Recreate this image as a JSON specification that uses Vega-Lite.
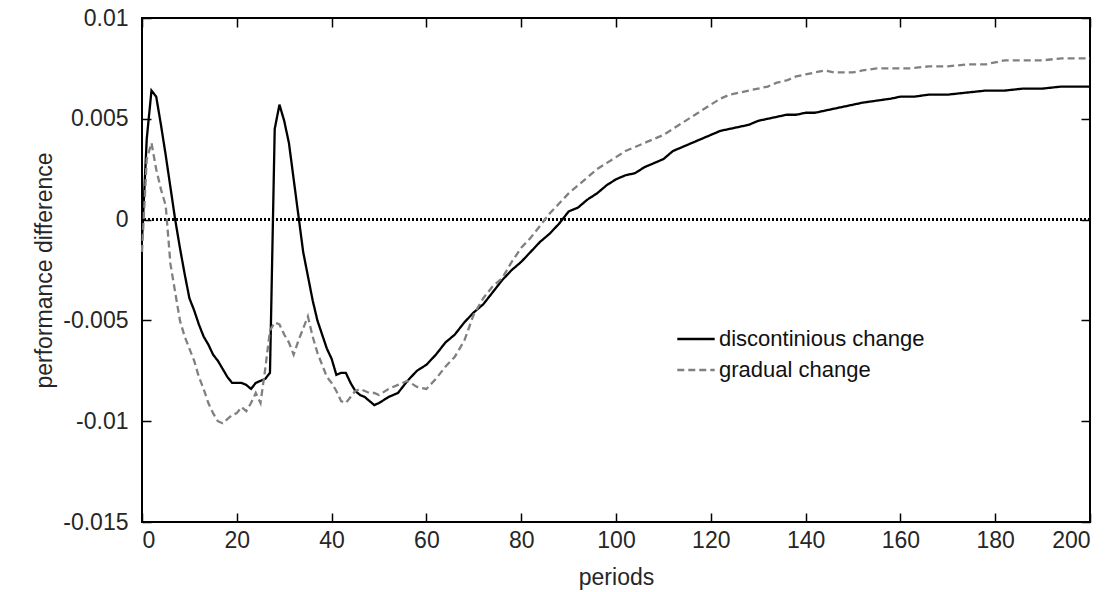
{
  "$schema": "https://vega.github.io/schema/vega-lite/v6.json",
  "width": 948,
  "height": 504,
  "autosize": {"type": "none"},
  "padding": {"left": 142, "top": 18, "right": 28, "bottom": 70},
  "background": "white",
  "config": {
    "font": "Liberation Sans",
    "view": {"stroke": "#000", "strokeWidth": 2},
    "axis": {
      "domain": false,
      "grid": false,
      "tickColor": "#000",
      "tickWidth": 1.5,
      "tickSize": -9,
      "labelFont": "Liberation Sans",
      "labelFontSize": 23,
      "labelColor": "#262626",
      "titleFont": "Liberation Sans",
      "titleFontSize": 23,
      "titleFontWeight": "normal",
      "titleColor": "#262626"
    },
    "legend": {
      "symbolType": "M-1,0H1",
      "symbolSize": 1400,
      "symbolStrokeWidth": 2.3,
      "labelFont": "Liberation Sans",
      "labelFontSize": 22,
      "labelColor": "#111",
      "labelOffset": 3,
      "labelLimit": 0,
      "rowPadding": -1,
      "padding": 0
    }
  },
  "datasets": {
    "series": [
      {"period": 0, "value": -0.0010, "series": "discontinious change"},
      {"period": 1, "value": 0.0040, "series": "discontinious change"},
      {"period": 2, "value": 0.0064, "series": "discontinious change"},
      {"period": 3, "value": 0.0061, "series": "discontinious change"},
      {"period": 4, "value": 0.0047, "series": "discontinious change"},
      {"period": 5, "value": 0.0032, "series": "discontinious change"},
      {"period": 6, "value": 0.0016, "series": "discontinious change"},
      {"period": 7, "value": 0.0000, "series": "discontinious change"},
      {"period": 8, "value": -0.0014, "series": "discontinious change"},
      {"period": 9, "value": -0.0027, "series": "discontinious change"},
      {"period": 10, "value": -0.0039, "series": "discontinious change"},
      {"period": 11, "value": -0.0045, "series": "discontinious change"},
      {"period": 12, "value": -0.0052, "series": "discontinious change"},
      {"period": 13, "value": -0.0058, "series": "discontinious change"},
      {"period": 14, "value": -0.0062, "series": "discontinious change"},
      {"period": 15, "value": -0.0067, "series": "discontinious change"},
      {"period": 16, "value": -0.0070, "series": "discontinious change"},
      {"period": 17, "value": -0.0074, "series": "discontinious change"},
      {"period": 18, "value": -0.0078, "series": "discontinious change"},
      {"period": 19, "value": -0.0081, "series": "discontinious change"},
      {"period": 20, "value": -0.0081, "series": "discontinious change"},
      {"period": 21, "value": -0.0081, "series": "discontinious change"},
      {"period": 22, "value": -0.0082, "series": "discontinious change"},
      {"period": 23, "value": -0.0084, "series": "discontinious change"},
      {"period": 24, "value": -0.0081, "series": "discontinious change"},
      {"period": 25, "value": -0.0080, "series": "discontinious change"},
      {"period": 26, "value": -0.0079, "series": "discontinious change"},
      {"period": 27, "value": -0.0076, "series": "discontinious change"},
      {"period": 28, "value": 0.0045, "series": "discontinious change"},
      {"period": 29, "value": 0.0057, "series": "discontinious change"},
      {"period": 30, "value": 0.0049, "series": "discontinious change"},
      {"period": 31, "value": 0.0038, "series": "discontinious change"},
      {"period": 32, "value": 0.0020, "series": "discontinious change"},
      {"period": 33, "value": 0.0002, "series": "discontinious change"},
      {"period": 34, "value": -0.0016, "series": "discontinious change"},
      {"period": 35, "value": -0.0028, "series": "discontinious change"},
      {"period": 36, "value": -0.0040, "series": "discontinious change"},
      {"period": 37, "value": -0.0050, "series": "discontinious change"},
      {"period": 38, "value": -0.0057, "series": "discontinious change"},
      {"period": 39, "value": -0.0064, "series": "discontinious change"},
      {"period": 40, "value": -0.0069, "series": "discontinious change"},
      {"period": 41, "value": -0.0077, "series": "discontinious change"},
      {"period": 42, "value": -0.0076, "series": "discontinious change"},
      {"period": 43, "value": -0.0076, "series": "discontinious change"},
      {"period": 44, "value": -0.0081, "series": "discontinious change"},
      {"period": 45, "value": -0.0085, "series": "discontinious change"},
      {"period": 46, "value": -0.0087, "series": "discontinious change"},
      {"period": 47, "value": -0.0088, "series": "discontinious change"},
      {"period": 48, "value": -0.0090, "series": "discontinious change"},
      {"period": 49, "value": -0.0092, "series": "discontinious change"},
      {"period": 50, "value": -0.0091, "series": "discontinious change"},
      {"period": 52, "value": -0.0088, "series": "discontinious change"},
      {"period": 54, "value": -0.0086, "series": "discontinious change"},
      {"period": 56, "value": -0.0080, "series": "discontinious change"},
      {"period": 58, "value": -0.0075, "series": "discontinious change"},
      {"period": 60, "value": -0.0072, "series": "discontinious change"},
      {"period": 62, "value": -0.0067, "series": "discontinious change"},
      {"period": 64, "value": -0.0061, "series": "discontinious change"},
      {"period": 66, "value": -0.0057, "series": "discontinious change"},
      {"period": 68, "value": -0.0051, "series": "discontinious change"},
      {"period": 70, "value": -0.0046, "series": "discontinious change"},
      {"period": 72, "value": -0.0042, "series": "discontinious change"},
      {"period": 74, "value": -0.0036, "series": "discontinious change"},
      {"period": 76, "value": -0.0030, "series": "discontinious change"},
      {"period": 78, "value": -0.0025, "series": "discontinious change"},
      {"period": 80, "value": -0.0021, "series": "discontinious change"},
      {"period": 82, "value": -0.0016, "series": "discontinious change"},
      {"period": 84, "value": -0.0011, "series": "discontinious change"},
      {"period": 86, "value": -0.0007, "series": "discontinious change"},
      {"period": 88, "value": -0.0002, "series": "discontinious change"},
      {"period": 90, "value": 0.0004, "series": "discontinious change"},
      {"period": 92, "value": 0.0006, "series": "discontinious change"},
      {"period": 94, "value": 0.0010, "series": "discontinious change"},
      {"period": 96, "value": 0.0013, "series": "discontinious change"},
      {"period": 98, "value": 0.0017, "series": "discontinious change"},
      {"period": 100, "value": 0.0020, "series": "discontinious change"},
      {"period": 102, "value": 0.0022, "series": "discontinious change"},
      {"period": 104, "value": 0.0023, "series": "discontinious change"},
      {"period": 106, "value": 0.0026, "series": "discontinious change"},
      {"period": 108, "value": 0.0028, "series": "discontinious change"},
      {"period": 110, "value": 0.0030, "series": "discontinious change"},
      {"period": 112, "value": 0.0034, "series": "discontinious change"},
      {"period": 114, "value": 0.0036, "series": "discontinious change"},
      {"period": 116, "value": 0.0038, "series": "discontinious change"},
      {"period": 118, "value": 0.0040, "series": "discontinious change"},
      {"period": 120, "value": 0.0042, "series": "discontinious change"},
      {"period": 122, "value": 0.0044, "series": "discontinious change"},
      {"period": 124, "value": 0.0045, "series": "discontinious change"},
      {"period": 126, "value": 0.0046, "series": "discontinious change"},
      {"period": 128, "value": 0.0047, "series": "discontinious change"},
      {"period": 130, "value": 0.0049, "series": "discontinious change"},
      {"period": 132, "value": 0.0050, "series": "discontinious change"},
      {"period": 134, "value": 0.0051, "series": "discontinious change"},
      {"period": 136, "value": 0.0052, "series": "discontinious change"},
      {"period": 138, "value": 0.0052, "series": "discontinious change"},
      {"period": 140, "value": 0.0053, "series": "discontinious change"},
      {"period": 142, "value": 0.0053, "series": "discontinious change"},
      {"period": 144, "value": 0.0054, "series": "discontinious change"},
      {"period": 146, "value": 0.0055, "series": "discontinious change"},
      {"period": 148, "value": 0.0056, "series": "discontinious change"},
      {"period": 150, "value": 0.0057, "series": "discontinious change"},
      {"period": 152, "value": 0.0058, "series": "discontinious change"},
      {"period": 155, "value": 0.0059, "series": "discontinious change"},
      {"period": 158, "value": 0.0060, "series": "discontinious change"},
      {"period": 160, "value": 0.0061, "series": "discontinious change"},
      {"period": 163, "value": 0.0061, "series": "discontinious change"},
      {"period": 166, "value": 0.0062, "series": "discontinious change"},
      {"period": 170, "value": 0.0062, "series": "discontinious change"},
      {"period": 174, "value": 0.0063, "series": "discontinious change"},
      {"period": 178, "value": 0.0064, "series": "discontinious change"},
      {"period": 182, "value": 0.0064, "series": "discontinious change"},
      {"period": 186, "value": 0.0065, "series": "discontinious change"},
      {"period": 190, "value": 0.0065, "series": "discontinious change"},
      {"period": 194, "value": 0.0066, "series": "discontinious change"},
      {"period": 198, "value": 0.0066, "series": "discontinious change"},
      {"period": 200, "value": 0.0066, "series": "discontinious change"},
      {"period": 0, "value": -0.0016, "series": "gradual change"},
      {"period": 1, "value": 0.0030, "series": "gradual change"},
      {"period": 2, "value": 0.0038, "series": "gradual change"},
      {"period": 3, "value": 0.0025, "series": "gradual change"},
      {"period": 4, "value": 0.0015, "series": "gradual change"},
      {"period": 5, "value": 0.0007, "series": "gradual change"},
      {"period": 6, "value": -0.0022, "series": "gradual change"},
      {"period": 7, "value": -0.0036, "series": "gradual change"},
      {"period": 8, "value": -0.0050, "series": "gradual change"},
      {"period": 9, "value": -0.0058, "series": "gradual change"},
      {"period": 10, "value": -0.0064, "series": "gradual change"},
      {"period": 11, "value": -0.0070, "series": "gradual change"},
      {"period": 12, "value": -0.0078, "series": "gradual change"},
      {"period": 13, "value": -0.0084, "series": "gradual change"},
      {"period": 14, "value": -0.0091, "series": "gradual change"},
      {"period": 15, "value": -0.0096, "series": "gradual change"},
      {"period": 16, "value": -0.0100, "series": "gradual change"},
      {"period": 17, "value": -0.0101, "series": "gradual change"},
      {"period": 18, "value": -0.0099, "series": "gradual change"},
      {"period": 19, "value": -0.0097, "series": "gradual change"},
      {"period": 20, "value": -0.0096, "series": "gradual change"},
      {"period": 21, "value": -0.0093, "series": "gradual change"},
      {"period": 22, "value": -0.0095, "series": "gradual change"},
      {"period": 23, "value": -0.0091, "series": "gradual change"},
      {"period": 24, "value": -0.0086, "series": "gradual change"},
      {"period": 25, "value": -0.0091, "series": "gradual change"},
      {"period": 26, "value": -0.0074, "series": "gradual change"},
      {"period": 27, "value": -0.0055, "series": "gradual change"},
      {"period": 28, "value": -0.0051, "series": "gradual change"},
      {"period": 29, "value": -0.0052, "series": "gradual change"},
      {"period": 30, "value": -0.0057, "series": "gradual change"},
      {"period": 31, "value": -0.0061, "series": "gradual change"},
      {"period": 32, "value": -0.0067, "series": "gradual change"},
      {"period": 33, "value": -0.0060, "series": "gradual change"},
      {"period": 34, "value": -0.0054, "series": "gradual change"},
      {"period": 35, "value": -0.0048, "series": "gradual change"},
      {"period": 36, "value": -0.0058, "series": "gradual change"},
      {"period": 37, "value": -0.0066, "series": "gradual change"},
      {"period": 38, "value": -0.0072, "series": "gradual change"},
      {"period": 39, "value": -0.0078, "series": "gradual change"},
      {"period": 40, "value": -0.0081, "series": "gradual change"},
      {"period": 41, "value": -0.0085, "series": "gradual change"},
      {"period": 42, "value": -0.0090, "series": "gradual change"},
      {"period": 43, "value": -0.0091, "series": "gradual change"},
      {"period": 44, "value": -0.0088, "series": "gradual change"},
      {"period": 45, "value": -0.0085, "series": "gradual change"},
      {"period": 46, "value": -0.0084, "series": "gradual change"},
      {"period": 47, "value": -0.0085, "series": "gradual change"},
      {"period": 48, "value": -0.0086, "series": "gradual change"},
      {"period": 49, "value": -0.0086, "series": "gradual change"},
      {"period": 50, "value": -0.0087, "series": "gradual change"},
      {"period": 52, "value": -0.0084, "series": "gradual change"},
      {"period": 54, "value": -0.0082, "series": "gradual change"},
      {"period": 56, "value": -0.0080, "series": "gradual change"},
      {"period": 58, "value": -0.0083, "series": "gradual change"},
      {"period": 60, "value": -0.0084, "series": "gradual change"},
      {"period": 62, "value": -0.0079, "series": "gradual change"},
      {"period": 64, "value": -0.0073, "series": "gradual change"},
      {"period": 66, "value": -0.0068, "series": "gradual change"},
      {"period": 68, "value": -0.0060, "series": "gradual change"},
      {"period": 70, "value": -0.0047, "series": "gradual change"},
      {"period": 72, "value": -0.0039, "series": "gradual change"},
      {"period": 74, "value": -0.0033, "series": "gradual change"},
      {"period": 76, "value": -0.0029, "series": "gradual change"},
      {"period": 78, "value": -0.0021, "series": "gradual change"},
      {"period": 80, "value": -0.0014, "series": "gradual change"},
      {"period": 82, "value": -0.0009, "series": "gradual change"},
      {"period": 84, "value": -0.0003, "series": "gradual change"},
      {"period": 86, "value": 0.0003, "series": "gradual change"},
      {"period": 88, "value": 0.0008, "series": "gradual change"},
      {"period": 90, "value": 0.0013, "series": "gradual change"},
      {"period": 92, "value": 0.0017, "series": "gradual change"},
      {"period": 94, "value": 0.0021, "series": "gradual change"},
      {"period": 96, "value": 0.0025, "series": "gradual change"},
      {"period": 98, "value": 0.0028, "series": "gradual change"},
      {"period": 100, "value": 0.0031, "series": "gradual change"},
      {"period": 102, "value": 0.0034, "series": "gradual change"},
      {"period": 104, "value": 0.0036, "series": "gradual change"},
      {"period": 106, "value": 0.0038, "series": "gradual change"},
      {"period": 108, "value": 0.0040, "series": "gradual change"},
      {"period": 110, "value": 0.0042, "series": "gradual change"},
      {"period": 112, "value": 0.0045, "series": "gradual change"},
      {"period": 114, "value": 0.0048, "series": "gradual change"},
      {"period": 116, "value": 0.0051, "series": "gradual change"},
      {"period": 118, "value": 0.0054, "series": "gradual change"},
      {"period": 120, "value": 0.0057, "series": "gradual change"},
      {"period": 122, "value": 0.0060, "series": "gradual change"},
      {"period": 124, "value": 0.0062, "series": "gradual change"},
      {"period": 126, "value": 0.0063, "series": "gradual change"},
      {"period": 128, "value": 0.0064, "series": "gradual change"},
      {"period": 130, "value": 0.0065, "series": "gradual change"},
      {"period": 132, "value": 0.0066, "series": "gradual change"},
      {"period": 134, "value": 0.0068, "series": "gradual change"},
      {"period": 136, "value": 0.0069, "series": "gradual change"},
      {"period": 138, "value": 0.0071, "series": "gradual change"},
      {"period": 140, "value": 0.0072, "series": "gradual change"},
      {"period": 142, "value": 0.0073, "series": "gradual change"},
      {"period": 144, "value": 0.0074, "series": "gradual change"},
      {"period": 146, "value": 0.0073, "series": "gradual change"},
      {"period": 148, "value": 0.0073, "series": "gradual change"},
      {"period": 150, "value": 0.0073, "series": "gradual change"},
      {"period": 152, "value": 0.0074, "series": "gradual change"},
      {"period": 155, "value": 0.0075, "series": "gradual change"},
      {"period": 158, "value": 0.0075, "series": "gradual change"},
      {"period": 162, "value": 0.0075, "series": "gradual change"},
      {"period": 166, "value": 0.0076, "series": "gradual change"},
      {"period": 170, "value": 0.0076, "series": "gradual change"},
      {"period": 174, "value": 0.0077, "series": "gradual change"},
      {"period": 178, "value": 0.0077, "series": "gradual change"},
      {"period": 182, "value": 0.0079, "series": "gradual change"},
      {"period": 186, "value": 0.0079, "series": "gradual change"},
      {"period": 190, "value": 0.0079, "series": "gradual change"},
      {"period": 194, "value": 0.0080, "series": "gradual change"},
      {"period": 198, "value": 0.0080, "series": "gradual change"},
      {"period": 200, "value": 0.0080, "series": "gradual change"}
    ]
  },
  "data": {"name": "series"},
  "resolve": {"axis": {"x": "independent", "y": "independent"}},
  "layer": [
    {
      "mark": {"type": "line", "opacity": 0},
      "encoding": {
        "x": {"field": "period", "type": "quantitative", "scale": {"domain": [0, 200], "nice": false},
              "axis": {"orient": "top", "labels": false, "title": null, "values": [0, 20, 40, 60, 80, 100, 120, 140, 160, 180, 200]}},
        "y": {"field": "value", "type": "quantitative", "scale": {"domain": [-0.015, 0.01], "nice": false, "zero": false},
              "axis": {"orient": "right", "labels": false, "title": null, "values": [-0.015, -0.01, -0.005, 0, 0.005, 0.01]}}
      }
    },
    {
      "mark": {"type": "rule", "color": "#000", "strokeWidth": 1.6, "strokeDash": [2, 2]},
      "encoding": {
        "y": {"datum": 0, "type": "quantitative", "scale": {"domain": [-0.015, 0.01], "nice": false, "zero": false}, "axis": null}
      }
    },
    {
      "mark": {"type": "line", "strokeWidth": 2.3},
      "encoding": {
        "x": {"field": "period", "type": "quantitative", "scale": {"domain": [0, 200], "nice": false},
              "axis": {"orient": "bottom", "title": "periods", "labelPadding": 16, "titlePadding": 14,
                       "values": [0, 20, 40, 60, 80, 100, 120, 140, 160, 180, 200]}},
        "y": {"field": "value", "type": "quantitative", "scale": {"domain": [-0.015, 0.01], "nice": false, "zero": false},
              "axis": {"orient": "left", "title": "performance difference", "labelPadding": 23, "titlePadding": 6,
                       "values": [-0.015, -0.01, -0.005, 0, 0.005, 0.01], "labelExpr": "replace(format(datum.value, '~g'), '\u2212', '-')"}},
        "color": {"field": "series", "type": "nominal",
                  "scale": {"domain": ["discontinious change", "gradual change"], "range": ["#000000", "#808080"]},
                  "legend": {"orient": "none", "legendX": 534, "legendY": 301, "title": null}},
        "strokeDash": {"field": "series", "type": "nominal",
                       "scale": {"domain": ["discontinious change", "gradual change"], "range": [[1, 0], [7, 4]]},
                       "legend": {"orient": "none", "legendX": 534, "legendY": 301, "title": null}}
      }
    }
  ]
}
